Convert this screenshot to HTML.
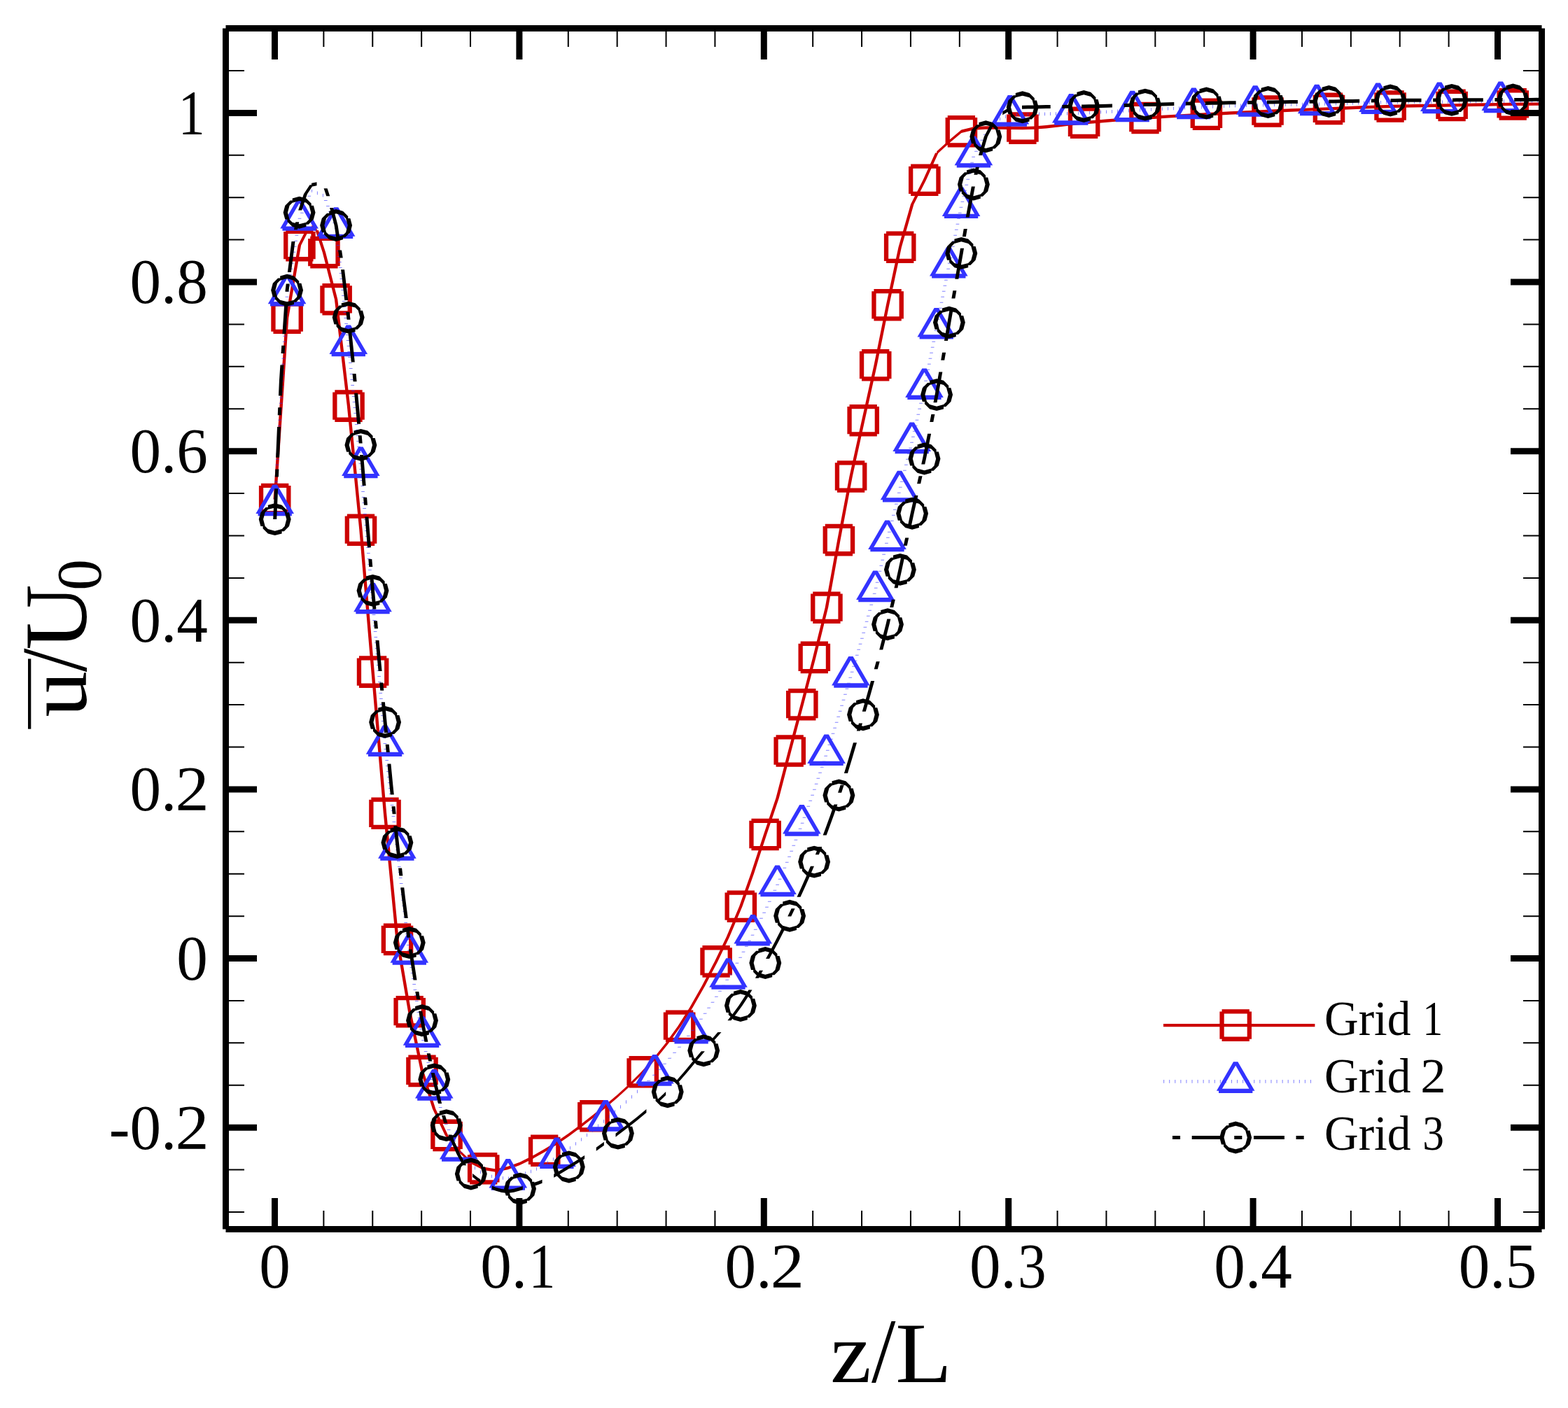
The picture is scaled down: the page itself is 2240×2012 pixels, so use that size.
<!DOCTYPE html>
<html lang="en"><head><meta charset="utf-8"><title>Grid convergence: mean velocity u/U0 versus z/L</title>
<style>html,body{margin:0;padding:0;background:#fff}svg{display:block}</style></head>
<body>
<svg width="2240" height="2012" viewBox="0 0 2240 2012" font-family="'Liberation Serif', 'Times New Roman', serif">
<defs>
<path id="ms" d="M-19.65 -22.8L19.65 -22.8L19.65 -16.5L-19.65 -16.5ZM16.5 -19.65L22.8 -19.65L22.8 19.65L16.5 19.65ZM19.65 22.8L-19.65 22.8L-19.65 16.5L19.65 16.5ZM-22.8 -19.65L-16.5 -19.65L-16.5 19.65L-22.8 19.65Z"/>
<path id="mt" d="M-3.15 -28.1L3.15 -28.1L27.3 13.4L21 13.4ZM24.15 16.55L-24.15 16.55L-24.15 10.25L24.15 10.25ZM-3.15 -28.1L3.15 -28.1L-21 13.4L-27.3 13.4Z"/>
<path id="mc" d="M0 -22.95L9.9 -20.3L9.9 -14L0 -16.65ZM9.9 -20.3L17.15 -13.05L17.15 -6.75L9.9 -14ZM14 -9.9L20.3 -9.9L22.95 0L16.65 0ZM16.65 0L22.95 0L20.3 9.9L14 9.9ZM14 9.9L20.3 9.9L13.05 17.15L6.75 17.15ZM9.9 20.3L0 22.95L0 16.65L9.9 14ZM0 22.95L-9.9 20.3L-9.9 14L0 16.65ZM-9.9 20.3L-17.15 13.05L-17.15 6.75L-9.9 14ZM-22.95 0L-16.65 0L-14 9.9L-20.3 9.9ZM-20.3 -9.9L-14 -9.9L-16.65 0L-22.95 0ZM-13.05 -17.15L-6.75 -17.15L-14 -9.9L-20.3 -9.9ZM-9.9 -20.3L0 -22.95L0 -16.65L-9.9 -14Z"/>
</defs>
<rect width="2240" height="2012" fill="#fff"/>
<g id="grid1" fill="#cc0000">
<path d="M407.9 454.2L412.3 454.2L394.9 713.6L390.5 713.6ZM425.7 350.6L430.1 350.6L412.3 454.2L407.9 454.2ZM434.4 333.5L438.8 333.5L430.1 350.6L425.7 350.6ZM443.1 324L447.5 324L438.8 333.5L434.4 333.5ZM445.3 321.8L452.7 326.8L452.7 331.2L445.3 326.2ZM450.5 329L454.9 329L465.1 360.6L460.7 360.6ZM460.7 360.6L465.1 360.6L482.3 427.8L477.9 427.8ZM477.9 427.8L482.3 427.8L500.2 580.1L495.8 580.1ZM495.8 580.1L500.2 580.1L517.7 757.2L513.3 757.2ZM513.3 757.2L517.7 757.2L534.8 960.1L530.4 960.1ZM530.4 960.1L534.8 960.1L552.2 1162.3L547.8 1162.3ZM547.8 1162.3L552.2 1162.3L569.7 1342.4L565.3 1342.4ZM565.3 1342.4L569.7 1342.4L587.4 1445.7L583 1445.7ZM583 1445.7L587.4 1445.7L605.2 1530.4L600.8 1530.4ZM600.8 1530.4L605.2 1530.4L622.27 1584.45L617.87 1584.45ZM617.87 1584.45L622.27 1584.45L640.2 1622.4L635.8 1622.4ZM635.8 1622.4L640.2 1622.4L657.25 1643.98L652.85 1643.98ZM655.05 1641.78L672.54 1658.38L672.54 1662.78L655.05 1646.18ZM672.54 1658.38L690.7 1667.6L690.7 1672L672.54 1662.78ZM690.7 1667.6L708.2 1670.4L708.2 1674.8L690.7 1672ZM708.2 1670.4L725.7 1666.8L725.7 1671.2L708.2 1674.8ZM725.7 1666.8L742.5 1660.72L742.5 1665.12L725.7 1671.2ZM742.5 1660.72L759.99 1652L759.99 1656.4L742.5 1665.12ZM759.99 1652L777.7 1642.1L777.7 1646.5L759.99 1656.4ZM777.7 1642.1L794.97 1631.58L794.97 1635.98L777.7 1646.5ZM794.97 1631.58L812.46 1619.54L812.46 1623.94L794.97 1635.98ZM812.46 1619.54L829.95 1606.5L829.95 1610.9L812.46 1623.94ZM829.95 1606.5L847.9 1592.5L847.9 1596.9L829.95 1610.9ZM847.9 1592.5L864.93 1578.78L864.93 1583.18L847.9 1596.9ZM864.93 1578.78L882.42 1563.91L882.42 1568.31L864.93 1583.18ZM882.42 1563.91L899.91 1547.91L899.91 1552.31L882.42 1568.31ZM916 1531.8L920.4 1531.8L902.11 1550.11L897.71 1550.11ZM932.69 1513.22L937.09 1513.22L920.4 1531.8L916 1531.8ZM950.18 1491.47L954.58 1491.47L937.09 1513.22L932.69 1513.22ZM968.4 1466.2L972.8 1466.2L954.58 1491.47L950.18 1491.47ZM985.16 1439.85L989.56 1439.85L972.8 1466.2L968.4 1466.2ZM1002.65 1408.96L1007.05 1408.96L989.56 1439.85L985.16 1439.85ZM1020.9 1373.9L1025.3 1373.9L1007.05 1408.96L1002.65 1408.96ZM1037.63 1338.94L1042.03 1338.94L1025.3 1373.9L1020.9 1373.9ZM1056.1 1295.2L1060.5 1295.2L1042.03 1338.94L1037.63 1338.94ZM1072.61 1248.38L1077.01 1248.38L1060.5 1295.2L1056.1 1295.2ZM1090.9 1192.5L1095.3 1192.5L1077.01 1248.38L1072.61 1248.38ZM1108.4 1140.5L1112.8 1140.5L1095.3 1192.5L1090.9 1192.5ZM1126 1073L1130.4 1073L1112.8 1140.5L1108.4 1140.5ZM1143.6 1006.7L1148 1006.7L1130.4 1073L1126 1073ZM1161.1 939.4L1165.5 939.4L1148 1006.7L1143.6 1006.7ZM1178.7 868.2L1183.1 868.2L1165.5 939.4L1161.1 939.4ZM1196.2 771.6L1200.6 771.6L1183.1 868.2L1178.7 868.2ZM1213.4 681L1217.8 681L1200.6 771.6L1196.2 771.6ZM1231 600.7L1235.4 600.7L1217.8 681L1213.4 681ZM1248.5 521.7L1252.9 521.7L1235.4 600.7L1231 600.7ZM1265.9 435.8L1270.3 435.8L1252.9 521.7L1248.5 521.7ZM1283.5 353.3L1287.9 353.3L1270.3 435.8L1265.9 435.8ZM1301 292L1305.4 292L1287.9 353.3L1283.5 353.3ZM1318.6 257.3L1323 257.3L1305.4 292L1301 292ZM1336.1 218.5L1340.5 218.5L1323 257.3L1318.6 257.3ZM1338.3 216.3L1355.8 200.3L1355.8 204.7L1338.3 220.7ZM1355.8 200.3L1373.4 185.5L1373.4 189.9L1355.8 204.7ZM1373.4 185.5L1391 181.3L1391 185.7L1373.4 189.9ZM1391 181.3L1408.5 180.3L1408.5 184.7L1391 185.7ZM1408.5 180.3L1424.61 180.44L1424.61 184.84L1408.5 184.7ZM1424.61 180.44L1442.1 180.72L1442.1 185.12L1424.61 184.84ZM1442.1 180.72L1460.9 180.9L1460.9 185.3L1442.1 185.12ZM1460.9 180.9L1477.08 180.4L1477.08 184.8L1460.9 185.3ZM1477.08 180.4L1494.57 178.99L1494.57 183.39L1477.08 184.8ZM1494.57 178.99L1512.06 177.07L1512.06 181.47L1494.57 183.39ZM1512.06 177.07L1529.55 175.01L1529.55 179.41L1512.06 181.47ZM1529.55 175.01L1548.6 173.1L1548.6 177.5L1529.55 179.41ZM1548.6 173.1L1564.53 171.78L1564.53 176.18L1548.6 177.5ZM1564.53 171.78L1582.02 170.35L1582.02 174.75L1564.53 176.18ZM1582.02 170.35L1599.51 168.96L1599.51 173.36L1582.02 174.75ZM1599.51 168.96L1617 167.64L1617 172.04L1599.51 173.36ZM1617 167.64L1636 166.3L1636 170.7L1617 172.04ZM1636 166.3L1651.98 165.25L1651.98 169.65L1636 170.7ZM1651.98 165.25L1669.47 164.16L1669.47 168.56L1651.98 169.65ZM1669.47 164.16L1686.96 163.13L1686.96 167.53L1669.47 168.56ZM1686.96 163.13L1704.45 162.14L1704.45 166.54L1686.96 167.53ZM1704.45 162.14L1723.4 161.1L1723.4 165.5L1704.45 166.54ZM1723.4 161.1L1739.43 160.25L1739.43 164.65L1723.4 165.5ZM1739.43 160.25L1756.92 159.36L1756.92 163.76L1739.43 164.65ZM1756.92 159.36L1774.41 158.5L1774.41 162.9L1756.92 163.76ZM1774.41 158.5L1791.9 157.67L1791.9 162.07L1774.41 162.9ZM1791.9 157.67L1811 156.8L1811 161.2L1791.9 162.07ZM1811 156.8L1826.88 156.11L1826.88 160.51L1811 161.2ZM1826.88 156.11L1844.37 155.37L1844.37 159.77L1826.88 160.51ZM1844.37 155.37L1861.86 154.66L1861.86 159.06L1844.37 159.77ZM1861.86 154.66L1879.35 153.96L1879.35 158.36L1861.86 159.06ZM1879.35 153.96L1898.5 153.2L1898.5 157.6L1879.35 158.36ZM1898.5 153.2L1914.33 152.54L1914.33 156.94L1898.5 157.6ZM1914.33 152.54L1931.82 151.78L1931.82 156.18L1914.33 156.94ZM1931.82 151.78L1949.31 151.04L1949.31 155.44L1931.82 156.18ZM1949.31 151.04L1966.8 150.38L1966.8 154.78L1949.31 155.44ZM1966.8 150.38L1986.1 149.8L1986.1 154.2L1966.8 154.78ZM1986.1 149.8L2001.78 149.44L2001.78 153.84L1986.1 154.2ZM2001.78 149.44L2019.27 149.11L2019.27 153.51L2001.78 153.84ZM2019.27 149.11L2036.76 148.81L2036.76 153.21L2019.27 153.51ZM2036.76 148.81L2054.25 148.53L2054.25 152.93L2036.76 153.21ZM2054.25 148.53L2074.1 148.2L2074.1 152.6L2054.25 152.93ZM2074.1 148.2L2089.23 147.92L2089.23 152.32L2074.1 152.6ZM2089.23 147.92L2106.72 147.58L2106.72 151.98L2089.23 152.32ZM2106.72 147.58L2124.21 147.24L2124.21 151.64L2106.72 151.98ZM2124.21 147.24L2141.7 146.95L2141.7 151.35L2124.21 151.64ZM2141.7 146.95L2161.2 146.7L2161.2 151.1L2141.7 151.35ZM2161.2 146.7L2176.68 146.56L2176.68 150.96L2161.2 151.1ZM2176.68 146.56L2194.17 146.44L2194.17 150.84L2176.68 150.96ZM2194.17 146.44L2202.5 146.4L2202.5 150.8L2194.17 150.84Z" fill="#cc0000" />
<use href="#ms" x="392.7" y="713.6"/><use href="#ms" x="410.1" y="454.2"/><use href="#ms" x="427.9" y="350.6"/><use href="#ms" x="462.9" y="360.6"/><use href="#ms" x="480.1" y="427.8"/><use href="#ms" x="498" y="580.1"/><use href="#ms" x="515.5" y="757.2"/><use href="#ms" x="532.6" y="960.1"/><use href="#ms" x="550" y="1162.3"/><use href="#ms" x="567.5" y="1342.4"/><use href="#ms" x="585.2" y="1445.7"/><use href="#ms" x="603" y="1530.4"/><use href="#ms" x="638" y="1622.4"/><use href="#ms" x="690.7" y="1669.8"/><use href="#ms" x="777.7" y="1644.3"/><use href="#ms" x="847.9" y="1594.7"/><use href="#ms" x="918.2" y="1531.8"/><use href="#ms" x="970.6" y="1466.2"/><use href="#ms" x="1023.1" y="1373.9"/><use href="#ms" x="1058.3" y="1295.2"/><use href="#ms" x="1093.1" y="1192.5"/><use href="#ms" x="1128.2" y="1073"/><use href="#ms" x="1145.8" y="1006.7"/><use href="#ms" x="1163.3" y="939.4"/><use href="#ms" x="1180.9" y="868.2"/><use href="#ms" x="1198.4" y="771.6"/><use href="#ms" x="1215.6" y="681"/><use href="#ms" x="1233.2" y="600.7"/><use href="#ms" x="1250.7" y="521.7"/><use href="#ms" x="1268.1" y="435.8"/><use href="#ms" x="1285.7" y="353.3"/><use href="#ms" x="1320.8" y="257.3"/><use href="#ms" x="1373.4" y="187.7"/><use href="#ms" x="1460.9" y="183.1"/><use href="#ms" x="1548.6" y="175.3"/><use href="#ms" x="1636" y="168.5"/><use href="#ms" x="1723.4" y="163.3"/><use href="#ms" x="1811" y="159"/><use href="#ms" x="1898.5" y="155.4"/><use href="#ms" x="1986.1" y="152"/><use href="#ms" x="2074.1" y="150.4"/><use href="#ms" x="2161.2" y="148.9"/>
</g>
<g id="grid2" fill="#3333ff">
<path d="M390.41 719.7L395.11 719.7L395.05 720.7L390.35 720.7ZM390.87 711.7L395.57 711.7L395.51 712.7L390.81 712.7ZM391.34 703.7L396.04 703.7L395.98 704.7L391.28 704.7ZM391.8 695.7L396.5 695.7L396.44 696.7L391.74 696.7ZM392.27 687.7L396.97 687.7L396.91 688.7L392.21 688.7ZM392.73 679.7L397.43 679.7L397.37 680.7L392.67 680.7ZM393.19 671.7L397.89 671.7L397.84 672.7L393.14 672.7ZM393.66 663.7L398.36 663.7L398.3 664.7L393.6 664.7ZM394.12 655.7L398.82 655.7L398.76 656.7L394.06 656.7ZM394.59 647.7L399.29 647.7L399.23 648.7L394.53 648.7ZM395.05 639.7L399.75 639.7L399.69 640.7L394.99 640.7ZM395.52 631.7L400.22 631.7L400.16 632.7L395.46 632.7ZM395.98 623.7L400.68 623.7L400.62 624.7L395.92 624.7ZM396.44 615.7L401.14 615.7L401.09 616.7L396.39 616.7ZM396.91 607.7L401.61 607.7L401.55 608.7L396.85 608.7ZM397.37 599.7L402.07 599.7L402.01 600.7L397.31 600.7ZM397.84 591.7L402.54 591.7L402.48 592.7L397.78 592.7ZM398.3 583.7L403 583.7L402.94 584.7L398.24 584.7ZM398.77 575.7L403.47 575.7L403.41 576.7L398.71 576.7ZM399.23 567.7L403.93 567.7L403.87 568.7L399.17 568.7ZM399.69 559.7L404.39 559.7L404.34 560.7L399.64 560.7ZM400.16 551.7L404.86 551.7L404.8 552.7L400.1 552.7ZM400.62 543.7L405.32 543.7L405.26 544.7L400.56 544.7ZM401.09 535.7L405.79 535.7L405.73 536.7L401.03 536.7ZM401.55 527.7L406.25 527.7L406.19 528.7L401.49 528.7ZM402.02 519.7L406.72 519.7L406.66 520.7L401.96 520.7ZM402.48 511.7L407.18 511.7L407.12 512.7L402.42 512.7ZM402.94 503.7L407.64 503.7L407.59 504.7L402.89 504.7ZM403.41 495.7L408.11 495.7L408.05 496.7L403.35 496.7ZM403.87 487.7L408.57 487.7L408.51 488.7L403.81 488.7ZM404.34 479.7L409.04 479.7L408.98 480.7L404.28 480.7ZM404.8 471.7L409.5 471.7L409.44 472.7L404.74 472.7ZM405.27 463.7L409.97 463.7L409.91 464.7L405.21 464.7ZM405.73 455.7L410.43 455.7L410.37 456.7L405.67 456.7ZM406.19 447.7L410.89 447.7L410.84 448.7L406.14 448.7ZM406.66 439.7L411.36 439.7L411.3 440.7L406.6 440.7ZM407.12 431.7L411.82 431.7L411.77 432.7L407.07 432.7ZM407.59 423.7L412.29 423.7L412.23 424.7L407.53 424.7ZM408.59 415.7L413.29 415.7L413.13 416.7L408.43 416.7ZM409.89 407.7L414.59 407.7L414.43 408.7L409.73 408.7ZM411.19 399.7L415.89 399.7L415.73 400.7L411.03 400.7ZM412.49 391.7L417.19 391.7L417.03 392.7L412.33 392.7ZM413.79 383.7L418.49 383.7L418.33 384.7L413.63 384.7ZM415.09 375.7L419.79 375.7L419.63 376.7L414.93 376.7ZM416.39 367.7L421.09 367.7L420.93 368.7L416.23 368.7ZM417.69 359.7L422.39 359.7L422.23 360.7L417.53 360.7ZM418.99 351.7L423.69 351.7L423.53 352.7L418.83 352.7ZM420.29 343.7L424.99 343.7L424.83 344.7L420.13 344.7ZM421.59 335.7L426.29 335.7L426.13 336.7L421.43 336.7ZM422.89 327.7L427.59 327.7L427.43 328.7L422.73 328.7ZM424.19 319.7L428.89 319.7L428.73 320.7L424.03 320.7ZM425.89 311.7L430.59 311.7L430.16 312.7L425.46 312.7ZM429.33 303.7L434.03 303.7L433.6 304.7L428.9 304.7ZM432.77 295.7L437.47 295.7L437.04 296.7L432.34 296.7ZM436.21 287.7L440.91 287.7L440.48 288.7L435.78 288.7ZM439.65 279.7L444.35 279.7L443.92 280.7L439.22 280.7ZM442.75 272.5L447.45 272.5L447.36 272.7L442.66 272.7ZM445.1 270.15L445.9 270.48L445.9 275.18L445.1 274.85ZM452.9 273.36L453.9 273.77L453.9 278.47L452.9 278.06ZM460.9 276.65L461.9 277.06L461.9 281.76L460.9 281.35ZM462.72 286L467.42 286L467.81 287L463.11 287ZM465.85 294L470.55 294L470.94 295L466.24 295ZM468.98 302L473.68 302L474.07 303L469.37 303ZM472.11 310L476.81 310L477.2 311L472.5 311ZM475.24 318L479.94 318L480.34 319L475.64 319ZM477.92 326L482.62 326L482.72 327L478.02 327ZM478.76 334L483.46 334L483.56 335L478.86 335ZM479.6 342L484.3 342L484.41 343L479.71 343ZM480.44 350L485.14 350L485.25 351L480.55 351ZM481.28 358L485.98 358L486.09 359L481.39 359ZM482.13 366L486.83 366L486.93 367L482.23 367ZM482.97 374L487.67 374L487.77 375L483.07 375ZM483.81 382L488.51 382L488.61 383L483.91 383ZM484.65 390L489.35 390L489.45 391L484.75 391ZM485.49 398L490.19 398L490.3 399L485.6 399ZM486.33 406L491.03 406L491.14 407L486.44 407ZM487.17 414L491.87 414L491.98 415L487.28 415ZM488.01 422L492.71 422L492.82 423L488.12 423ZM488.86 430L493.56 430L493.66 431L488.96 431ZM489.7 438L494.4 438L494.5 439L489.8 439ZM490.54 446L495.24 446L495.34 447L490.64 447ZM491.38 454L496.08 454L496.19 455L491.49 455ZM492.22 462L496.92 462L497.03 463L492.33 463ZM493.06 470L497.76 470L497.87 471L493.17 471ZM493.9 478L498.6 478L498.71 479L494.01 479ZM494.75 486L499.45 486L499.55 487L494.85 487ZM495.58 494L500.28 494L500.38 495L495.68 495ZM496.39 502L501.09 502L501.19 503L496.49 503ZM497.2 510L501.9 510L502 511L497.3 511ZM498.01 518L502.71 518L502.81 519L498.11 519ZM498.82 526L503.52 526L503.62 527L498.92 527ZM499.63 534L504.33 534L504.43 535L499.73 535ZM500.44 542L505.14 542L505.24 543L500.54 543ZM501.25 550L505.95 550L506.05 551L501.35 551ZM502.06 558L506.76 558L506.86 559L502.16 559ZM502.86 566L507.56 566L507.67 567L502.97 567ZM503.67 574L508.37 574L508.47 575L503.77 575ZM504.48 582L509.18 582L509.28 583L504.58 583ZM505.29 590L509.99 590L510.09 591L505.39 591ZM506.1 598L510.8 598L510.9 599L506.2 599ZM506.91 606L511.61 606L511.71 607L507.01 607ZM507.72 614L512.42 614L512.52 615L507.82 615ZM508.53 622L513.23 622L513.33 623L508.63 623ZM509.34 630L514.04 630L514.14 631L509.44 631ZM510.15 638L514.85 638L514.95 639L510.25 639ZM510.96 646L515.66 646L515.76 647L511.06 647ZM511.77 654L516.47 654L516.57 655L511.87 655ZM512.57 662L517.27 662L517.38 663L512.68 663ZM513.34 670L518.04 670L518.13 671L513.43 671ZM514.05 678L518.75 678L518.83 679L514.13 679ZM514.75 686L519.45 686L519.54 687L514.84 687ZM515.46 694L520.16 694L520.24 695L515.54 695ZM516.16 702L520.86 702L520.95 703L516.25 703ZM516.86 710L521.56 710L521.65 711L516.95 711ZM517.57 718L522.27 718L522.36 719L517.66 719ZM518.27 726L522.97 726L523.06 727L518.36 727ZM518.98 734L523.68 734L523.77 735L519.07 735ZM519.68 742L524.38 742L524.47 743L519.77 743ZM520.39 750L525.09 750L525.18 751L520.48 751ZM521.09 758L525.79 758L525.88 759L521.18 759ZM521.8 766L526.5 766L526.59 767L521.89 767ZM522.5 774L527.2 774L527.29 775L522.59 775ZM523.21 782L527.91 782L528 783L523.3 783ZM523.91 790L528.61 790L528.7 791L524 791ZM524.62 798L529.32 798L529.41 799L524.71 799ZM525.32 806L530.02 806L530.11 807L525.41 807ZM526.03 814L530.73 814L530.82 815L526.12 815ZM526.73 822L531.43 822L531.52 823L526.82 823ZM527.44 830L532.14 830L532.22 831L527.52 831ZM528.14 838L532.84 838L532.93 839L528.23 839ZM528.85 846L533.55 846L533.63 847L528.93 847ZM529.55 854L534.25 854L534.34 855L529.64 855ZM530.25 862L534.95 862L535.04 863L530.34 863ZM530.95 870L535.65 870L535.73 871L531.03 871ZM531.64 878L536.34 878L536.42 879L531.72 879ZM532.33 886L537.03 886L537.11 887L532.41 887ZM533.02 894L537.72 894L537.81 895L533.11 895ZM533.71 902L538.41 902L538.5 903L533.8 903ZM534.4 910L539.1 910L539.19 911L534.49 911ZM535.09 918L539.79 918L539.88 919L535.18 919ZM535.79 926L540.49 926L540.57 927L535.87 927ZM536.48 934L541.18 934L541.26 935L536.56 935ZM537.17 942L541.87 942L541.96 943L537.26 943ZM537.86 950L542.56 950L542.65 951L537.95 951ZM538.55 958L543.25 958L543.34 959L538.64 959ZM539.24 966L543.94 966L544.03 967L539.33 967ZM539.94 974L544.64 974L544.72 975L540.02 975ZM540.63 982L545.33 982L545.41 983L540.71 983ZM541.32 990L546.02 990L546.11 991L541.41 991ZM542.01 998L546.71 998L546.8 999L542.1 999ZM542.7 1006L547.4 1006L547.49 1007L542.79 1007ZM543.39 1014L548.09 1014L548.18 1015L543.48 1015ZM544.08 1022L548.78 1022L548.87 1023L544.17 1023ZM544.78 1030L549.48 1030L549.56 1031L544.86 1031ZM545.47 1038L550.17 1038L550.25 1039L545.55 1039ZM546.16 1046L550.86 1046L550.95 1047L546.25 1047ZM546.85 1054L551.55 1054L551.64 1055L546.94 1055ZM547.54 1062L552.24 1062L552.33 1063L547.63 1063ZM548.4 1070L553.1 1070L553.22 1071L548.52 1071ZM549.33 1078L554.03 1078L554.15 1079L549.45 1079ZM550.26 1086L554.96 1086L555.08 1087L550.38 1087ZM551.19 1094L555.89 1094L556.01 1095L551.31 1095ZM552.12 1102L556.82 1102L556.93 1103L552.23 1103ZM553.05 1110L557.75 1110L557.86 1111L553.16 1111ZM553.98 1118L558.68 1118L558.79 1119L554.09 1119ZM554.91 1126L559.61 1126L559.72 1127L555.02 1127ZM555.84 1134L560.54 1134L560.65 1135L555.95 1135ZM556.77 1142L561.47 1142L561.58 1143L556.88 1143ZM557.7 1150L562.4 1150L562.51 1151L557.81 1151ZM558.62 1158L563.32 1158L563.44 1159L558.74 1159ZM559.55 1166L564.25 1166L564.37 1167L559.67 1167ZM560.48 1174L565.18 1174L565.3 1175L560.6 1175ZM561.41 1182L566.11 1182L566.23 1183L561.53 1183ZM562.34 1190L567.04 1190L567.16 1191L562.46 1191ZM563.27 1198L567.97 1198L568.09 1199L563.39 1199ZM564.2 1206L568.9 1206L569.02 1207L564.32 1207ZM565.13 1214L569.83 1214L569.95 1215L565.25 1215ZM566.07 1222L570.77 1222L570.88 1223L566.18 1223ZM567 1230L571.7 1230L571.82 1231L567.12 1231ZM567.93 1238L572.63 1238L572.75 1239L568.05 1239ZM568.87 1246L573.57 1246L573.69 1247L568.99 1247ZM569.8 1254L574.5 1254L574.62 1255L569.92 1255ZM570.74 1262L575.44 1262L575.55 1263L570.85 1263ZM571.67 1270L576.37 1270L576.49 1271L571.79 1271ZM572.61 1278L577.31 1278L577.42 1279L572.72 1279ZM573.54 1286L578.24 1286L578.36 1287L573.66 1287ZM574.47 1294L579.17 1294L579.29 1295L574.59 1295ZM575.41 1302L580.11 1302L580.23 1303L575.53 1303ZM576.34 1310L581.04 1310L581.16 1311L576.46 1311ZM577.28 1318L581.98 1318L582.09 1319L577.39 1319ZM578.21 1326L582.91 1326L583.03 1327L578.33 1327ZM579.15 1334L583.85 1334L583.96 1335L579.26 1335ZM580.08 1342L584.78 1342L584.9 1343L580.2 1343ZM581.01 1350L585.71 1350L585.83 1351L581.13 1351ZM581.95 1358L586.65 1358L586.76 1359L582.06 1359ZM583.02 1366L587.72 1366L587.88 1367L583.18 1367ZM584.26 1374L588.96 1374L589.12 1375L584.42 1375ZM585.5 1382L590.2 1382L590.36 1383L585.66 1383ZM586.74 1390L591.44 1390L591.6 1391L586.9 1391ZM587.98 1398L592.68 1398L592.84 1399L588.14 1399ZM589.22 1406L593.92 1406L594.08 1407L589.38 1407ZM590.46 1414L595.16 1414L595.32 1415L590.62 1415ZM591.7 1422L596.4 1422L596.56 1423L591.86 1423ZM592.94 1430L597.64 1430L597.8 1431L593.1 1431ZM594.18 1438L598.88 1438L599.03 1439L594.33 1439ZM595.42 1446L600.12 1446L600.27 1447L595.57 1447ZM596.66 1454L601.36 1454L601.51 1455L596.81 1455ZM597.9 1462L602.6 1462L602.75 1463L598.05 1463ZM599.14 1470L603.84 1470L603.99 1471L599.29 1471ZM600.38 1478L605.08 1478L605.23 1479L600.53 1479ZM602.02 1486L606.72 1486L606.95 1487L602.25 1487ZM603.84 1494L608.54 1494L608.76 1495L604.06 1495ZM605.65 1502L610.35 1502L610.58 1503L605.88 1503ZM607.47 1510L612.17 1510L612.39 1511L607.69 1511ZM609.28 1518L613.98 1518L614.21 1519L609.51 1519ZM611.1 1526L615.8 1526L616.02 1527L611.32 1527ZM612.91 1534L617.61 1534L617.84 1535L613.14 1535ZM614.73 1542L619.43 1542L619.65 1543L614.95 1543ZM616.54 1550L621.24 1550L621.47 1551L616.77 1551ZM618.56 1558L623.26 1558L623.59 1559L618.89 1559ZM621.25 1566L625.95 1566L626.29 1567L621.59 1567ZM623.95 1574L628.65 1574L628.99 1575L624.29 1575ZM626.64 1582L631.34 1582L631.68 1583L626.98 1583ZM629.34 1590L634.04 1590L634.38 1591L629.68 1591ZM632.04 1598L636.74 1598L637.07 1599L632.37 1599ZM634.73 1606L639.43 1606L639.77 1607L635.07 1607ZM638.46 1614L643.16 1614L643.65 1615L638.95 1615ZM642.4 1622L647.1 1622L647.59 1623L642.89 1623ZM646.34 1630L651.04 1630L651.54 1631L646.84 1631ZM650.29 1638L654.99 1638L655.48 1639L650.78 1639ZM655.12 1646L659.82 1646L660.63 1647L655.93 1647ZM661.61 1654L666.31 1654L667.12 1655L662.42 1655ZM668.1 1662L672.8 1662L673.61 1663L668.91 1663ZM677.96 1666.2L678.96 1666.93L678.96 1671.63L677.96 1670.9ZM685.96 1672.05L686.96 1672.78L686.96 1677.48L685.96 1676.75ZM693.96 1676.18L694.96 1676.46L694.96 1681.16L693.96 1680.88ZM701.96 1678.38L702.96 1678.65L702.96 1683.35L701.96 1683.08ZM709.96 1680.19L710.96 1680.29L710.96 1684.99L709.96 1684.89ZM717.96 1681.03L718.96 1681.13L718.96 1685.83L717.96 1685.73ZM725.96 1681.8L726.96 1681.5L726.96 1686.2L725.96 1686.5ZM733.96 1679.41L734.96 1679.11L734.96 1683.81L733.96 1684.11ZM741.96 1677.02L742.96 1676.72L742.96 1681.42L741.96 1681.72ZM749.96 1674.41L750.96 1674.08L750.96 1678.78L749.96 1679.11ZM757.96 1671.76L758.96 1671.43L758.96 1676.13L757.96 1676.46ZM765.96 1668.19L766.96 1667.68L766.96 1672.38L765.96 1672.89ZM773.96 1664.13L774.96 1663.63L774.96 1668.33L773.96 1668.83ZM781.96 1659.55L782.96 1658.93L782.96 1663.63L781.96 1664.25ZM789.96 1654.55L790.96 1653.92L790.96 1658.62L789.96 1659.25ZM797.96 1649.41L798.96 1648.72L798.96 1653.42L797.96 1654.11ZM805.96 1643.96L806.96 1643.28L806.96 1647.98L805.96 1648.66ZM813.96 1638.41L814.96 1637.66L814.96 1642.36L813.96 1643.11ZM821.96 1632.42L822.96 1631.67L822.96 1636.37L821.96 1637.12ZM829.96 1626.42L830.96 1625.62L830.96 1630.32L829.96 1631.12ZM837.96 1620.04L838.96 1619.24L838.96 1623.94L837.96 1624.74ZM845.96 1613.65L846.96 1612.85L846.96 1617.55L845.96 1618.35ZM853.96 1607.06L854.96 1606.23L854.96 1610.93L853.96 1611.76ZM861.96 1600.43L862.96 1599.6L862.96 1604.3L861.96 1605.13ZM869.96 1593.68L870.96 1592.83L870.96 1597.53L869.96 1598.38ZM877.96 1586.84L878.96 1585.99L878.96 1590.69L877.96 1591.54ZM885.96 1579.86L886.96 1578.97L886.96 1583.67L885.96 1584.56ZM893.96 1572.7L894.96 1571.8L894.96 1576.5L893.96 1577.4ZM901.96 1565.44L902.96 1564.49L902.96 1569.19L901.96 1570.14ZM909.96 1557.89L910.96 1556.94L910.96 1561.64L909.96 1562.59ZM916.61 1551.66L921.31 1551.66L920.31 1552.66L915.61 1552.66ZM924.6 1543.66L929.3 1543.66L928.3 1544.66L923.6 1544.66ZM932.59 1535.66L937.29 1535.66L936.3 1536.66L931.6 1536.66ZM940.11 1527.66L944.81 1527.66L943.87 1528.66L939.17 1528.66ZM947.59 1519.66L952.29 1519.66L951.35 1520.66L946.65 1520.66ZM954.71 1511.66L959.41 1511.66L958.54 1512.66L953.84 1512.66ZM961.67 1503.66L966.37 1503.66L965.5 1504.66L960.8 1504.66ZM968.54 1495.66L973.24 1495.66L972.44 1496.66L967.74 1496.66ZM974.98 1487.66L979.68 1487.66L978.88 1488.66L974.18 1488.66ZM981.42 1479.66L986.12 1479.66L985.32 1480.66L980.62 1480.66ZM987.64 1471.66L992.34 1471.66L991.61 1472.66L986.91 1472.66ZM993.55 1463.66L998.25 1463.66L997.51 1464.66L992.81 1464.66ZM999.45 1455.66L1004.15 1455.66L1003.41 1456.66L998.71 1456.66ZM1005.13 1447.66L1009.83 1447.66L1009.15 1448.66L1004.45 1448.66ZM1010.57 1439.66L1015.27 1439.66L1014.59 1440.66L1009.89 1440.66ZM1016.01 1431.66L1020.71 1431.66L1020.03 1432.66L1015.33 1432.66ZM1021.36 1423.66L1026.06 1423.66L1025.42 1424.66L1020.72 1424.66ZM1026.46 1415.66L1031.16 1415.66L1030.52 1416.66L1025.82 1416.66ZM1031.55 1407.66L1036.25 1407.66L1035.62 1408.66L1030.92 1408.66ZM1036.65 1399.66L1041.35 1399.66L1040.71 1400.66L1036.01 1400.66ZM1041.47 1391.66L1046.17 1391.66L1045.59 1392.66L1040.89 1392.66ZM1046.19 1383.66L1050.89 1383.66L1050.3 1384.66L1045.6 1384.66ZM1050.9 1375.66L1055.6 1375.66L1055.01 1376.66L1050.31 1376.66ZM1055.56 1367.66L1060.26 1367.66L1059.72 1368.66L1055.02 1368.66ZM1059.92 1359.66L1064.62 1359.66L1064.07 1360.66L1059.37 1360.66ZM1064.28 1351.66L1068.98 1351.66L1068.43 1352.66L1063.73 1352.66ZM1068.63 1343.66L1073.33 1343.66L1072.79 1344.66L1068.09 1344.66ZM1072.99 1335.66L1077.69 1335.66L1077.15 1336.66L1072.45 1336.66ZM1077.14 1327.66L1081.84 1327.66L1081.33 1328.66L1076.63 1328.66ZM1081.28 1319.66L1085.98 1319.66L1085.46 1320.66L1080.76 1320.66ZM1085.41 1311.66L1090.11 1311.66L1089.6 1312.66L1084.9 1312.66ZM1089.55 1303.66L1094.25 1303.66L1093.73 1304.66L1089.03 1304.66ZM1093.38 1295.66L1098.08 1295.66L1097.61 1296.66L1092.91 1296.66ZM1097.19 1287.66L1101.89 1287.66L1101.41 1288.66L1096.71 1288.66ZM1100.99 1279.66L1105.69 1279.66L1105.21 1280.66L1100.51 1280.66ZM1104.79 1271.66L1109.49 1271.66L1109.02 1272.66L1104.32 1272.66ZM1108.15 1264.6L1112.85 1264.6L1112.82 1264.66L1108.12 1264.66ZM1108.55 1263.66L1113.25 1263.66L1112.85 1264.6L1108.15 1264.6ZM1111.93 1255.66L1116.63 1255.66L1116.21 1256.66L1111.51 1256.66ZM1115.32 1247.66L1120.02 1247.66L1119.59 1248.66L1114.89 1248.66ZM1118.7 1239.66L1123.4 1239.66L1122.98 1240.66L1118.28 1240.66ZM1122.09 1231.66L1126.79 1231.66L1126.36 1232.66L1121.66 1232.66ZM1125.43 1223.66L1130.13 1223.66L1129.74 1224.66L1125.04 1224.66ZM1128.53 1215.66L1133.23 1215.66L1132.84 1216.66L1128.14 1216.66ZM1131.63 1207.66L1136.33 1207.66L1135.94 1208.66L1131.24 1208.66ZM1134.73 1199.66L1139.43 1199.66L1139.04 1200.66L1134.34 1200.66ZM1137.83 1191.66L1142.53 1191.66L1142.15 1192.66L1137.45 1192.66ZM1140.93 1183.66L1145.63 1183.66L1145.25 1184.66L1140.55 1184.66ZM1143.97 1175.66L1148.67 1175.66L1148.31 1176.66L1143.61 1176.66ZM1146.86 1167.66L1151.56 1167.66L1151.2 1168.66L1146.5 1168.66ZM1149.76 1159.66L1154.46 1159.66L1154.1 1160.66L1149.4 1160.66ZM1152.65 1151.66L1157.35 1151.66L1156.99 1152.66L1152.29 1152.66ZM1155.55 1143.66L1160.25 1143.66L1159.88 1144.66L1155.18 1144.66ZM1158.44 1135.66L1163.14 1135.66L1162.78 1136.66L1158.08 1136.66ZM1161.24 1127.66L1165.94 1127.66L1165.61 1128.66L1160.91 1128.66ZM1163.96 1119.66L1168.66 1119.66L1168.32 1120.66L1163.62 1120.66ZM1166.67 1111.66L1171.37 1111.66L1171.03 1112.66L1166.33 1112.66ZM1169.38 1103.66L1174.08 1103.66L1173.74 1104.66L1169.04 1104.66ZM1172.09 1095.66L1176.79 1095.66L1176.46 1096.66L1171.76 1096.66ZM1174.81 1087.66L1179.51 1087.66L1179.17 1088.66L1174.47 1088.66ZM1177.52 1079.66L1182.22 1079.66L1181.88 1080.66L1177.18 1080.66ZM1180.12 1071.66L1184.82 1071.66L1184.5 1072.66L1179.8 1072.66ZM1182.69 1063.66L1187.39 1063.66L1187.07 1064.66L1182.37 1064.66ZM1185.26 1055.66L1189.96 1055.66L1189.64 1056.66L1184.94 1056.66ZM1187.82 1047.66L1192.52 1047.66L1192.2 1048.66L1187.5 1048.66ZM1190.39 1039.66L1195.09 1039.66L1194.77 1040.66L1190.07 1040.66ZM1192.96 1031.66L1197.66 1031.66L1197.34 1032.66L1192.64 1032.66ZM1195.49 1023.66L1200.19 1023.66L1199.89 1024.66L1195.19 1024.66ZM1197.93 1015.66L1202.63 1015.66L1202.33 1016.66L1197.63 1016.66ZM1200.37 1007.66L1205.07 1007.66L1204.77 1008.66L1200.07 1008.66ZM1202.81 999.66L1207.51 999.66L1207.21 1000.66L1202.51 1000.66ZM1205.25 991.66L1209.95 991.66L1209.65 992.66L1204.95 992.66ZM1207.69 983.66L1212.39 983.66L1212.09 984.66L1207.39 984.66ZM1210.14 975.66L1214.84 975.66L1214.53 976.66L1209.83 976.66ZM1212.58 967.66L1217.28 967.66L1216.97 968.66L1212.27 968.66ZM1214.97 959.66L1219.67 959.66L1219.37 960.66L1214.67 960.66ZM1217.34 951.66L1222.04 951.66L1221.75 952.66L1217.05 952.66ZM1219.72 943.66L1224.42 943.66L1224.12 944.66L1219.42 944.66ZM1222.1 935.66L1226.8 935.66L1226.5 936.66L1221.8 936.66ZM1224.48 927.66L1229.18 927.66L1228.88 928.66L1224.18 928.66ZM1226.85 919.66L1231.55 919.66L1231.26 920.66L1226.56 920.66ZM1229.23 911.66L1233.93 911.66L1233.64 912.66L1228.94 912.66ZM1231.49 903.66L1236.19 903.66L1235.91 904.66L1231.21 904.66ZM1233.7 895.66L1238.4 895.66L1238.12 896.66L1233.42 896.66ZM1235.91 887.66L1240.61 887.66L1240.33 888.66L1235.63 888.66ZM1238.12 879.66L1242.82 879.66L1242.54 880.66L1237.84 880.66ZM1240.33 871.66L1245.03 871.66L1244.75 872.66L1240.05 872.66ZM1242.54 863.66L1247.24 863.66L1246.96 864.66L1242.26 864.66ZM1244.75 855.66L1249.45 855.66L1249.17 856.66L1244.47 856.66ZM1246.96 847.66L1251.66 847.66L1251.38 848.66L1246.68 848.66ZM1249.01 839.66L1253.71 839.66L1253.47 840.66L1248.77 840.66ZM1250.91 831.66L1255.61 831.66L1255.37 832.66L1250.67 832.66ZM1252.81 823.66L1257.51 823.66L1257.27 824.66L1252.57 824.66ZM1254.71 815.66L1259.41 815.66L1259.17 816.66L1254.47 816.66ZM1256.61 807.66L1261.31 807.66L1261.07 808.66L1256.37 808.66ZM1258.51 799.66L1263.21 799.66L1262.97 800.66L1258.27 800.66ZM1260.41 791.66L1265.11 791.66L1264.87 792.66L1260.17 792.66ZM1262.31 783.66L1267.01 783.66L1266.77 784.66L1262.07 784.66ZM1264.21 775.66L1268.91 775.66L1268.67 776.66L1263.97 776.66ZM1266.16 767.66L1270.86 767.66L1270.61 768.66L1265.91 768.66ZM1268.14 759.66L1272.84 759.66L1272.6 760.66L1267.9 760.66ZM1270.13 751.66L1274.83 751.66L1274.58 752.66L1269.88 752.66ZM1272.12 743.66L1276.82 743.66L1276.57 744.66L1271.87 744.66ZM1274.11 735.66L1278.81 735.66L1278.56 736.66L1273.86 736.66ZM1276.1 727.66L1280.8 727.66L1280.55 728.66L1275.85 728.66ZM1278.09 719.66L1282.79 719.66L1282.54 720.66L1277.84 720.66ZM1280.08 711.66L1284.78 711.66L1284.53 712.66L1279.83 712.66ZM1282.06 703.66L1286.76 703.66L1286.52 704.66L1281.82 704.66ZM1284.08 695.66L1288.78 695.66L1288.53 696.66L1283.83 696.66ZM1286.12 687.66L1290.82 687.66L1290.56 688.66L1285.86 688.66ZM1288.15 679.66L1292.85 679.66L1292.6 680.66L1287.9 680.66ZM1290.19 671.66L1294.89 671.66L1294.63 672.66L1289.93 672.66ZM1292.22 663.66L1296.92 663.66L1296.67 664.66L1291.97 664.66ZM1294.26 655.66L1298.96 655.66L1298.7 656.66L1294 656.66ZM1296.29 647.66L1300.99 647.66L1300.74 648.66L1296.04 648.66ZM1298.33 639.66L1303.03 639.66L1302.77 640.66L1298.07 640.66ZM1300.35 631.7L1305.05 631.7L1304.81 632.66L1300.11 632.66ZM1300.36 631.66L1305.06 631.66L1305.05 631.7L1300.35 631.7ZM1302.2 623.66L1306.9 623.66L1306.67 624.66L1301.97 624.66ZM1304.05 615.66L1308.75 615.66L1308.52 616.66L1303.82 616.66ZM1305.89 607.66L1310.59 607.66L1310.36 608.66L1305.66 608.66ZM1307.74 599.66L1312.44 599.66L1312.21 600.66L1307.51 600.66ZM1309.58 591.66L1314.28 591.66L1314.05 592.66L1309.35 592.66ZM1311.43 583.66L1316.13 583.66L1315.9 584.66L1311.2 584.66ZM1313.27 575.66L1317.97 575.66L1317.74 576.66L1313.04 576.66ZM1315.12 567.66L1319.82 567.66L1319.59 568.66L1314.89 568.66ZM1316.96 559.66L1321.66 559.66L1321.43 560.66L1316.73 560.66ZM1318.72 551.66L1323.42 551.66L1323.22 552.66L1318.52 552.66ZM1320.32 543.66L1325.02 543.66L1324.82 544.66L1320.12 544.66ZM1321.92 535.66L1326.62 535.66L1326.42 536.66L1321.72 536.66ZM1323.52 527.66L1328.22 527.66L1328.02 528.66L1323.32 528.66ZM1325.12 519.66L1329.82 519.66L1329.62 520.66L1324.92 520.66ZM1326.72 511.66L1331.42 511.66L1331.22 512.66L1326.52 512.66ZM1328.32 503.66L1333.02 503.66L1332.82 504.66L1328.12 504.66ZM1329.92 495.66L1334.62 495.66L1334.42 496.66L1329.72 496.66ZM1331.52 487.66L1336.22 487.66L1336.02 488.66L1331.32 488.66ZM1333.12 479.66L1337.82 479.66L1337.62 480.66L1332.92 480.66ZM1334.72 471.66L1339.42 471.66L1339.22 472.66L1334.52 472.66ZM1336.32 463.66L1341.02 463.66L1340.82 464.66L1336.12 464.66ZM1337.93 455.66L1342.63 455.66L1342.43 456.66L1337.73 456.66ZM1339.54 447.66L1344.24 447.66L1344.04 448.66L1339.34 448.66ZM1341.15 439.66L1345.85 439.66L1345.65 440.66L1340.95 440.66ZM1342.76 431.66L1347.46 431.66L1347.26 432.66L1342.56 432.66ZM1344.37 423.66L1349.07 423.66L1348.87 424.66L1344.17 424.66ZM1345.98 415.66L1350.68 415.66L1350.48 416.66L1345.78 416.66ZM1347.59 407.66L1352.29 407.66L1352.09 408.66L1347.39 408.66ZM1349.2 399.66L1353.9 399.66L1353.7 400.66L1349 400.66ZM1350.81 391.66L1355.51 391.66L1355.31 392.66L1350.61 392.66ZM1352.42 383.66L1357.12 383.66L1356.91 384.66L1352.21 384.66ZM1354.06 375.66L1358.76 375.66L1358.55 376.66L1353.85 376.66ZM1355.73 367.66L1360.43 367.66L1360.22 368.66L1355.52 368.66ZM1357.39 359.66L1362.09 359.66L1361.89 360.66L1357.19 360.66ZM1359.06 351.66L1363.76 351.66L1363.55 352.66L1358.85 352.66ZM1360.72 343.66L1365.42 343.66L1365.22 344.66L1360.52 344.66ZM1362.39 335.66L1367.09 335.66L1366.88 336.66L1362.18 336.66ZM1364.06 327.66L1368.76 327.66L1368.55 328.66L1363.85 328.66ZM1365.72 319.66L1370.42 319.66L1370.21 320.66L1365.51 320.66ZM1367.39 311.66L1372.09 311.66L1371.88 312.66L1367.18 312.66ZM1369.05 303.66L1373.75 303.66L1373.54 304.66L1368.84 304.66ZM1370.72 295.66L1375.42 295.66L1375.21 296.66L1370.51 296.66ZM1372.67 287.66L1377.37 287.66L1377.13 288.66L1372.43 288.66ZM1374.63 279.66L1379.33 279.66L1379.09 280.66L1374.39 280.66ZM1376.6 271.66L1381.3 271.66L1381.05 272.66L1376.35 272.66ZM1378.56 263.66L1383.26 263.66L1383.01 264.66L1378.31 264.66ZM1380.52 255.66L1385.22 255.66L1384.97 256.66L1380.27 256.66ZM1382.48 247.66L1387.18 247.66L1386.94 248.66L1382.24 248.66ZM1384.44 239.66L1389.14 239.66L1388.9 240.66L1384.2 240.66ZM1386.4 231.66L1391.1 231.66L1390.86 232.66L1386.16 232.66ZM1388.36 223.66L1393.06 223.66L1392.82 224.66L1388.12 224.66ZM1392.38 215.66L1397.08 215.66L1396.55 216.66L1391.85 216.66ZM1396.61 207.66L1401.31 207.66L1400.78 208.66L1396.08 208.66ZM1400.84 199.66L1405.54 199.66L1405.01 200.66L1400.31 200.66ZM1405.07 191.66L1409.77 191.66L1409.25 192.66L1404.55 192.66ZM1411.76 183.66L1416.46 183.66L1415.54 184.66L1410.84 184.66ZM1419.09 175.66L1423.79 175.66L1422.87 176.66L1418.17 176.66ZM1428.04 167.72L1429.04 167.33L1429.04 172.03L1428.04 172.42ZM1436.04 164.56L1437.04 164.17L1437.04 168.87L1436.04 169.26ZM1444.04 161.8L1445.04 161.76L1445.04 166.46L1444.04 166.5ZM1452.04 161.45L1453.04 161.4L1453.04 166.1L1452.04 166.15ZM1460.04 161.1L1461.04 161.08L1461.04 165.78L1460.04 165.8ZM1468.04 160.91L1469.04 160.88L1469.04 165.58L1468.04 165.61ZM1476.04 160.71L1477.04 160.69L1477.04 165.39L1476.04 165.41ZM1484.04 160.58L1485.04 160.57L1485.04 165.27L1484.04 165.28ZM1492.04 160.47L1493.04 160.45L1493.04 165.15L1492.04 165.17ZM1500.04 160.35L1501.04 160.34L1501.04 165.04L1500.04 165.05ZM1508.04 160.24L1509.04 160.23L1509.04 164.93L1508.04 164.94ZM1516.04 160.09L1517.04 160.07L1517.04 164.77L1516.04 164.79ZM1524.04 159.9L1525.04 159.88L1525.04 164.58L1524.04 164.6ZM1532.04 159.68L1533.04 159.65L1533.04 164.35L1532.04 164.38ZM1540.04 159.38L1541.04 159.34L1541.04 164.04L1540.04 164.08ZM1548.04 159.06L1549.04 159.01L1549.04 163.71L1548.04 163.76ZM1556.04 158.68L1557.04 158.63L1557.04 163.33L1556.04 163.38ZM1564.04 158.3L1564.53 158.27L1564.53 162.97L1564.04 163ZM1564.53 158.27L1565.04 158.25L1565.04 162.95L1564.53 162.97ZM1572.04 157.87L1573.04 157.82L1573.04 162.52L1572.04 162.57ZM1580.04 157.45L1581.04 157.4L1581.04 162.1L1580.04 162.15ZM1588.04 157.01L1589.04 156.96L1589.04 161.66L1588.04 161.71ZM1596.04 156.58L1597.04 156.52L1597.04 161.22L1596.04 161.28ZM1604.04 156.15L1605.04 156.1L1605.04 160.8L1604.04 160.85ZM1612.04 155.74L1613.04 155.69L1613.04 160.39L1612.04 160.44ZM1620.04 155.33L1621.04 155.29L1621.04 159.99L1620.04 160.03ZM1628.04 154.94L1629.04 154.89L1629.04 159.59L1628.04 159.64ZM1636.04 154.55L1637.04 154.5L1637.04 159.2L1636.04 159.25ZM1644.04 154.15L1645.04 154.1L1645.04 158.8L1644.04 158.85ZM1652.04 153.75L1653.04 153.7L1653.04 158.4L1652.04 158.45ZM1660.04 153.35L1661.04 153.3L1661.04 158L1660.04 158.05ZM1668.04 152.96L1669.04 152.91L1669.04 157.61L1668.04 157.66ZM1676.04 152.58L1677.04 152.53L1677.04 157.23L1676.04 157.28ZM1684.04 152.2L1685.04 152.15L1685.04 156.85L1684.04 156.9ZM1692.04 151.84L1693.04 151.79L1693.04 156.49L1692.04 156.54ZM1700.04 151.48L1701.04 151.44L1701.04 156.14L1700.04 156.18ZM1708.04 151.13L1709.04 151.09L1709.04 155.79L1708.04 155.83ZM1716.04 150.79L1717.04 150.75L1717.04 155.45L1716.04 155.49ZM1724.04 150.45L1725.04 150.41L1725.04 155.11L1724.04 155.15ZM1732.04 150.11L1733.04 150.07L1733.04 154.77L1732.04 154.81ZM1740.04 149.77L1741.04 149.73L1741.04 154.43L1740.04 154.47ZM1748.04 149.45L1749.04 149.41L1749.04 154.11L1748.04 154.15ZM1756.04 149.13L1756.92 149.1L1756.92 153.8L1756.04 153.83ZM1756.92 149.1L1757.04 149.09L1757.04 153.79L1756.92 153.8ZM1764.04 148.84L1765.04 148.81L1765.04 153.51L1764.04 153.54ZM1772.04 148.56L1773.04 148.53L1773.04 153.23L1772.04 153.26ZM1780.04 148.32L1781.04 148.29L1781.04 152.99L1780.04 153.02ZM1788.04 148.09L1789.04 148.07L1789.04 152.77L1788.04 152.79ZM1796.04 147.89L1797.04 147.87L1797.04 152.57L1796.04 152.59ZM1804.04 147.72L1805.04 147.7L1805.04 152.4L1804.04 152.42ZM1812.04 147.57L1813.04 147.55L1813.04 152.25L1812.04 152.27ZM1820.04 147.44L1821.04 147.42L1821.04 152.12L1820.04 152.14ZM1828.04 147.31L1829.04 147.29L1829.04 151.99L1828.04 152.01ZM1836.04 147.19L1837.04 147.17L1837.04 151.87L1836.04 151.89ZM1844.04 147.07L1844.37 147.07L1844.37 151.77L1844.04 151.77ZM1844.37 147.07L1845.04 147.06L1845.04 151.76L1844.37 151.77ZM1852.04 146.95L1853.04 146.93L1853.04 151.63L1852.04 151.65ZM1860.04 146.83L1861.04 146.81L1861.04 151.51L1860.04 151.53ZM1868.04 146.69L1869.04 146.67L1869.04 151.37L1868.04 151.39ZM1876.04 146.54L1877.04 146.53L1877.04 151.23L1876.04 151.24ZM1884.04 146.38L1885.04 146.36L1885.04 151.06L1884.04 151.08ZM1892.04 146.19L1893.04 146.16L1893.04 150.86L1892.04 150.89ZM1900.04 145.97L1901.04 145.94L1901.04 150.64L1900.04 150.67ZM1908.04 145.74L1909.04 145.71L1909.04 150.41L1908.04 150.44ZM1916.04 145.5L1917.04 145.47L1917.04 150.17L1916.04 150.2ZM1924.04 145.25L1925.04 145.22L1925.04 149.92L1924.04 149.95ZM1932.04 145L1933.04 144.98L1933.04 149.68L1932.04 149.7ZM1940.04 144.78L1941.04 144.76L1941.04 149.46L1940.04 149.48ZM1948.04 144.56L1949.04 144.53L1949.04 149.23L1948.04 149.26ZM1956.04 144.4L1957.04 144.38L1957.04 149.08L1956.04 149.1ZM1964.04 144.24L1965.04 144.22L1965.04 148.92L1964.04 148.94ZM1972.04 144.11L1973.04 144.1L1973.04 148.8L1972.04 148.81ZM1980.04 144.01L1981.04 144L1981.04 148.7L1980.04 148.71ZM1988.04 143.93L1989.04 143.92L1989.04 148.62L1988.04 148.63ZM1996.04 143.85L1997.04 143.84L1997.04 148.54L1996.04 148.55ZM2004.04 143.78L2005.04 143.77L2005.04 148.47L2004.04 148.48ZM2012.04 143.72L2013.04 143.71L2013.04 148.41L2012.04 148.42ZM2020.04 143.65L2021.04 143.65L2021.04 148.35L2020.04 148.35ZM2028.04 143.59L2029.04 143.58L2029.04 148.28L2028.04 148.29ZM2036.04 143.53L2036.76 143.53L2036.76 148.23L2036.04 148.23ZM2036.76 143.53L2037.04 143.52L2037.04 148.22L2036.76 148.23ZM2044.04 143.46L2045.04 143.45L2045.04 148.15L2044.04 148.16ZM2052.04 143.39L2053.04 143.38L2053.04 148.08L2052.04 148.09ZM2060.04 143.31L2061.04 143.3L2061.04 148L2060.04 148.01ZM2068.04 143.22L2069.04 143.21L2069.04 147.91L2068.04 147.92ZM2076.04 143.13L2077.04 143.12L2077.04 147.82L2076.04 147.83ZM2084.04 143.03L2085.04 143.02L2085.04 147.72L2084.04 147.73ZM2092.04 142.93L2093.04 142.92L2093.04 147.62L2092.04 147.63ZM2100.04 142.83L2101.04 142.82L2101.04 147.52L2100.04 147.53ZM2108.04 142.73L2109.04 142.72L2109.04 147.42L2108.04 147.43ZM2116.04 142.64L2117.04 142.63L2117.04 147.33L2116.04 147.34ZM2124.04 142.54L2124.21 142.54L2124.21 147.24L2124.04 147.24ZM2124.21 142.54L2125.04 142.53L2125.04 147.23L2124.21 147.24ZM2132.04 142.47L2133.04 142.46L2133.04 147.16L2132.04 147.17ZM2140.04 142.39L2141.04 142.38L2141.04 147.08L2140.04 147.09ZM2148.04 142.32L2149.04 142.31L2149.04 147.01L2148.04 147.02ZM2156.04 142.25L2157.04 142.24L2157.04 146.94L2156.04 146.95ZM2164.04 142.19L2165.04 142.18L2165.04 146.88L2164.04 146.89ZM2172.04 142.13L2173.04 142.13L2173.04 146.83L2172.04 146.83ZM2180.04 142.08L2181.04 142.07L2181.04 146.77L2180.04 146.78ZM2188.04 142.03L2189.04 142.03L2189.04 146.73L2188.04 146.73ZM2196.04 141.98L2197.04 141.98L2197.04 146.68L2196.04 146.68Z" fill="#3333ff" fill-opacity="0.62"/>
<use href="#mt" x="392.7" y="720.7"/><use href="#mt" x="410.1" y="420.9"/><use href="#mt" x="427.6" y="313.2"/><use href="#mt" x="480.1" y="324.4"/><use href="#mt" x="497.8" y="492.7"/><use href="#mt" x="515.4" y="666.7"/><use href="#mt" x="532.5" y="860.8"/><use href="#mt" x="550.1" y="1064.4"/><use href="#mt" x="567.4" y="1213.3"/><use href="#mt" x="584.8" y="1362.3"/><use href="#mt" x="603.1" y="1480.4"/><use href="#mt" x="620.3" y="1556.2"/><use href="#mt" x="655.2" y="1643.2"/><use href="#mt" x="725.8" y="1684.2"/><use href="#mt" x="795.4" y="1653.5"/><use href="#mt" x="865.2" y="1600.1"/><use href="#mt" x="935.4" y="1535.2"/><use href="#mt" x="987.6" y="1474.9"/><use href="#mt" x="1040.5" y="1397.3"/><use href="#mt" x="1075.7" y="1335"/><use href="#mt" x="1110.5" y="1264.6"/><use href="#mt" x="1145.4" y="1178.2"/><use href="#mt" x="1180.6" y="1077.5"/><use href="#mt" x="1215.4" y="966.1"/><use href="#mt" x="1250.4" y="843.7"/><use href="#mt" x="1267.5" y="771.7"/><use href="#mt" x="1285.1" y="700.9"/><use href="#mt" x="1302.7" y="631.7"/><use href="#mt" x="1320.5" y="554.5"/><use href="#mt" x="1337.8" y="468"/><use href="#mt" x="1355.3" y="381"/><use href="#mt" x="1373.1" y="295.5"/><use href="#mt" x="1390.9" y="222.9"/><use href="#mt" x="1442.9" y="164.2"/><use href="#mt" x="1530.3" y="162.1"/><use href="#mt" x="1617.7" y="157.8"/><use href="#mt" x="1705.3" y="153.6"/><use href="#mt" x="1793.2" y="150.3"/><use href="#mt" x="1881.2" y="148.8"/><use href="#mt" x="1968.6" y="146.5"/><use href="#mt" x="2056.3" y="145.7"/><use href="#mt" x="2143.8" y="144.7"/>
</g>
<g id="grid3" fill="#000000">
<path d="M392.13 698.2L397.13 698.2L395.2 742.1L390.2 742.1ZM393.36 670.45L398.36 670.45L397.87 681.55L392.87 681.55ZM396.03 609.9L401.03 609.9L399.09 653.8L394.09 653.8ZM397.25 582.15L402.25 582.15L401.76 593.25L396.76 593.25ZM398.94 543.81L403.94 543.81L402.98 565.5L397.98 565.5ZM400.43 521.6L405.43 521.6L403.94 543.81L398.94 543.81ZM402.29 493.85L407.29 493.85L406.55 504.95L401.55 504.95ZM406.35 433.3L411.35 433.3L408.41 477.2L403.41 477.2ZM407.6 414.7L412.6 414.7L412.47 416.65L407.47 416.65ZM408.76 405.55L413.76 405.55L412.6 414.7L407.6 414.7ZM416.44 345.18L421.44 345.18L415.88 388.9L410.88 388.9ZM416.48 345L421.48 345L421.44 345.18L416.44 345.18ZM422.27 317.25L427.27 317.25L424.95 328.35L419.95 328.35ZM433.92 277.13L438.92 277.13L431.13 300.6L426.13 300.6ZM442.5 264.2L447.5 264.2L438.92 277.13L433.92 277.13ZM445 261.7L452.5 260.17L452.5 265.17L445 266.7ZM462.59 269.15L467.59 269.15L471.25 280.25L466.25 280.25ZM471.1 296.9L476.1 296.9L482.6 322L477.6 322ZM477.6 322L482.6 322L485.47 340.8L480.47 340.8ZM483.02 357.45L488.02 357.45L489.72 368.55L484.72 368.55ZM487.07 385.2L492.07 385.2L497.29 429.1L492.29 429.1ZM494.27 445.75L499.27 445.75L500.2 453.6L495.2 453.6ZM495.2 453.6L500.2 453.6L500.54 456.85L495.54 456.85ZM497.26 473.5L502.26 473.5L506.8 517.4L501.8 517.4ZM503.53 534.05L508.53 534.05L508.89 537.55L503.89 537.55ZM503.89 537.55L508.89 537.55L509.59 545.15L504.59 545.15ZM506.11 561.8L511.11 561.8L515.13 605.7L510.13 605.7ZM511.66 622.35L516.66 622.35L517.68 633.45L512.68 633.45ZM514.07 650.1L519.07 650.1L522.7 694L517.7 694ZM519.08 710.65L524.08 710.65L524.99 721.75L519.99 721.75ZM521.37 738.4L526.37 738.4L526.38 738.55L521.38 738.55ZM521.38 738.55L526.38 738.55L529.96 782.3L524.96 782.3ZM526.32 798.95L531.32 798.95L532.23 810.05L527.23 810.05ZM528.59 826.7L533.59 826.7L535 843.9L530 843.9ZM530 843.9L535 843.9L537.44 870.6L532.44 870.6ZM533.96 887.25L538.96 887.25L539.97 898.35L534.97 898.35ZM536.49 915L541.49 915L543.86 940.9L538.86 940.9ZM538.86 940.9L543.86 940.9L545.59 958.9L540.59 958.9ZM542.19 975.55L547.19 975.55L548.25 986.65L543.25 986.65ZM544.85 1003.3L549.85 1003.3L552.6 1031.9L547.6 1031.9ZM547.6 1031.9L552.6 1031.9L554.09 1047.2L549.09 1047.2ZM550.71 1063.85L555.71 1063.85L556.79 1074.95L551.79 1074.95ZM553.41 1091.6L558.41 1091.6L561.36 1121.92L556.36 1121.92ZM556.36 1121.92L561.36 1121.92L562.77 1135.5L557.77 1135.5ZM559.5 1152.15L564.5 1152.15L565.65 1163.25L560.65 1163.25ZM562.39 1179.9L567.39 1179.9L569.9 1204.1L564.9 1204.1ZM564.9 1204.1L569.9 1204.1L572.16 1223.8L567.16 1223.8ZM569.08 1240.45L574.08 1240.45L575.35 1251.55L570.35 1251.55ZM572.26 1268.2L577.26 1268.2L578.84 1281.92L573.84 1281.92ZM573.84 1281.92L578.84 1281.92L582.76 1312.1L577.76 1312.1ZM579.92 1328.75L584.92 1328.75L586.36 1339.85L581.36 1339.85ZM583.74 1356.5L588.74 1356.5L595.49 1400.4L590.49 1400.4ZM593.29 1417.05L598.29 1417.05L600.23 1428.15L595.23 1428.15ZM598.15 1444.8L603.15 1444.8L605.5 1458.2L600.5 1458.2ZM600.5 1458.2L605.5 1458.2L611.4 1488.7L606.4 1488.7ZM609.73 1505.35L614.73 1505.35L617.15 1516.45L612.15 1516.45ZM615.77 1533.1L620.77 1533.1L622.8 1542.4L617.8 1542.4ZM617.8 1542.4L622.8 1542.4L631.09 1577L626.09 1577ZM630.95 1593.65L635.95 1593.65L639.21 1604.75L634.21 1604.75ZM640.41 1621.4L645.41 1621.4L648.81 1630.09L643.81 1630.09ZM643.81 1630.09L648.81 1630.09L657.55 1649.57L652.55 1649.57ZM652.55 1649.57L657.55 1649.57L666.18 1665.3L661.18 1665.3ZM675.15 1676.89L681.5 1682L681.5 1687L675.15 1681.89ZM681.5 1682L686.25 1685.24L686.25 1690.24L681.5 1687ZM702.9 1694.38L707.8 1696.5L707.8 1701.5L702.9 1699.38ZM707.8 1696.5L716.5 1699L716.5 1704L707.8 1701.5ZM716.5 1699L725.3 1699.9L725.3 1704.9L716.5 1704ZM725.3 1699.9L734 1698.7L734 1703.7L725.3 1704.9ZM734 1698.7L743 1696.2L743 1701.2L734 1703.7ZM743 1696.2L746.8 1695.05L746.8 1700.05L743 1701.2ZM763.45 1689.76L768.74 1687.93L768.74 1692.93L763.45 1694.76ZM768.74 1687.93L774.55 1685.65L774.55 1690.65L768.74 1692.93ZM791.2 1677.75L794.97 1675.7L794.97 1680.7L791.2 1682.75ZM794.97 1675.7L803.72 1670.52L803.72 1675.52L794.97 1680.7ZM803.72 1670.52L812.8 1665L812.8 1670L803.72 1675.52ZM812.8 1665L821.21 1659.82L821.21 1664.82L812.8 1670ZM821.21 1659.82L829.95 1654.27L829.95 1659.27L821.21 1664.82ZM829.95 1654.27L835.1 1650.89L835.1 1655.89L829.95 1659.27ZM851.75 1639.64L856.19 1636.56L856.19 1641.56L851.75 1644.64ZM856.19 1636.56L862.85 1631.82L862.85 1636.82L856.19 1641.56ZM879.5 1619.63L882.9 1617.1L882.9 1622.1L879.5 1624.63ZM882.9 1617.1L891.17 1610.83L891.17 1615.83L882.9 1622.1ZM891.17 1610.83L899.91 1604.1L899.91 1609.1L891.17 1615.83ZM899.91 1604.1L908.66 1597.2L908.66 1602.2L899.91 1609.1ZM908.66 1597.2L917.4 1590.12L917.4 1595.12L908.66 1602.2ZM917.4 1590.12L923.4 1585.09L923.4 1590.09L917.4 1595.12ZM940.05 1570.52L943.64 1567.26L943.64 1572.26L940.05 1575.52ZM943.64 1567.26L951.15 1560.12L951.15 1565.12L943.64 1572.26ZM967.37 1543.08L972.37 1543.08L969.61 1546.1L964.61 1546.1ZM976.12 1532.99L981.12 1532.99L972.37 1543.08L967.37 1543.08ZM984.86 1522.59L989.86 1522.59L981.12 1532.99L976.12 1532.99ZM993.61 1512.05L998.61 1512.05L989.86 1522.59L984.86 1522.59ZM1001.86 1502.2L1006.86 1502.2L998.61 1512.05L993.61 1512.05ZM1019.84 1481.46L1024.84 1481.46L1020.82 1486.05L1015.82 1486.05ZM1025.49 1474.95L1030.49 1474.95L1024.84 1481.46L1019.84 1481.46ZM1046.08 1449.83L1051.08 1449.83L1044.4 1458.3L1039.4 1458.3ZM1055.4 1437L1060.4 1437L1051.08 1449.83L1046.08 1449.83ZM1063.57 1424.42L1068.57 1424.42L1060.4 1437L1055.4 1437ZM1069.46 1414.4L1074.46 1414.4L1068.57 1424.42L1063.57 1424.42ZM1081.06 1393.83L1086.06 1393.83L1083.88 1397.75L1078.88 1397.75ZM1084.98 1386.65L1089.98 1386.65L1086.06 1393.83L1081.06 1393.83ZM1098.55 1361.72L1103.55 1361.72L1099.06 1370L1094.06 1370ZM1107.29 1345.18L1112.29 1345.18L1103.55 1361.72L1098.55 1361.72ZM1116.04 1328.11L1121.04 1328.11L1112.29 1345.18L1107.29 1345.18ZM1117.04 1326.1L1122.04 1326.1L1121.04 1328.11L1116.04 1328.11ZM1125.6 1308.8L1130.6 1308.8L1130.28 1309.45L1125.28 1309.45ZM1130.63 1298.35L1135.63 1298.35L1130.6 1308.8L1125.6 1308.8ZM1142.27 1273.61L1147.27 1273.61L1143.49 1281.7L1138.49 1281.7ZM1151.02 1254.12L1156.02 1254.12L1147.27 1273.61L1142.27 1273.61ZM1157.96 1237.8L1162.96 1237.8L1156.02 1254.12L1151.02 1254.12ZM1168.51 1211.96L1173.51 1211.96L1169.81 1221.15L1164.81 1221.15ZM1169.24 1210.05L1174.24 1210.05L1173.51 1211.96L1168.51 1211.96ZM1177.25 1189.18L1182.25 1189.18L1180.63 1193.4L1175.63 1193.4ZM1186 1165.18L1191 1165.18L1182.25 1189.18L1177.25 1189.18ZM1191.41 1149.5L1196.41 1149.5L1191 1165.18L1186 1165.18ZM1200.67 1121.75L1205.67 1121.75L1202.08 1132.85L1197.08 1132.85ZM1212.23 1084.37L1217.23 1084.37L1210.91 1105.1L1205.91 1105.1ZM1219 1061.2L1224 1061.2L1217.23 1084.37L1212.23 1084.37ZM1226.99 1033.45L1231.99 1033.45L1228.81 1044.55L1223.81 1044.55ZM1238.47 993.2L1243.47 993.2L1236.75 1016.8L1231.75 1016.8ZM1244.14 972.9L1249.14 972.9L1243.47 993.2L1238.47 993.2ZM1251.74 945.15L1256.74 945.15L1253.74 956.25L1248.74 956.25ZM1265.5 892.2L1270.5 892.2L1261.21 928.5L1256.21 928.5ZM1267.29 884.6L1272.29 884.6L1270.5 892.2L1265.5 892.2ZM1273.45 858.52L1278.45 858.52L1276.22 867.95L1271.22 867.95ZM1273.82 856.85L1278.82 856.85L1278.45 858.52L1273.45 858.52ZM1283.4 813.9L1288.4 813.9L1282.54 840.2L1277.54 840.2ZM1287.2 796.3L1292.2 796.3L1288.4 813.9L1283.4 813.9ZM1290.94 778.98L1295.94 778.98L1295.8 779.65L1290.8 779.65ZM1293.17 768.55L1298.17 768.55L1295.94 778.98L1290.94 778.98ZM1300.6 733.8L1305.6 733.8L1301.73 751.9L1296.73 751.9ZM1306.41 708L1311.41 708L1305.6 733.8L1300.6 733.8ZM1312.56 680.25L1317.56 680.25L1315.11 691.35L1310.11 691.35ZM1318 655.5L1323 655.5L1321.22 663.6L1316.22 663.6ZM1325.15 619.7L1330.15 619.7L1323 655.5L1318 655.5ZM1330.39 591.95L1335.39 591.95L1333.31 603.05L1328.31 603.05ZM1335.6 564.1L1340.6 564.1L1338.5 575.3L1333.5 575.3ZM1341.32 531.4L1346.32 531.4L1340.6 564.1L1335.6 564.1ZM1346.1 503.65L1351.1 503.65L1349.21 514.75L1344.21 514.75ZM1353.4 460.8L1358.4 460.8L1353.94 487L1348.94 487ZM1356.5 443.1L1361.5 443.1L1358.4 460.8L1353.4 460.8ZM1360.9 417.94L1365.9 417.94L1364.41 426.45L1359.41 426.45ZM1361.36 415.35L1366.36 415.35L1365.9 417.94L1360.9 417.94ZM1370.8 361.9L1375.8 361.9L1369.3 398.7L1364.3 398.7ZM1372.01 354.8L1377.01 354.8L1375.8 361.9L1370.8 361.9ZM1376.76 327.05L1381.76 327.05L1379.86 338.15L1374.86 338.15ZM1387.84 266.5L1392.84 266.5L1384.71 310.4L1379.71 310.4ZM1393.83 238.75L1398.83 238.75L1396.4 249.85L1391.4 249.85ZM1405.8 195.3L1410.8 195.3L1403.01 222.1L1398.01 222.1ZM1413.37 180.78L1418.37 180.78L1410.8 195.3L1405.8 195.3ZM1415.37 178.2L1420.37 178.2L1418.37 180.78L1413.37 180.78ZM1432.25 159.52L1433.36 158.49L1433.36 163.49L1432.25 164.52ZM1433.36 158.49L1443.2 153L1443.2 158L1433.36 163.49ZM1443.2 153L1443.35 152.97L1443.35 157.97L1443.2 158ZM1460 150.86L1460.7 150.8L1460.7 155.8L1460 155.86ZM1460.7 150.8L1468.34 150.58L1468.34 155.58L1460.7 155.8ZM1468.34 150.58L1477.08 150.38L1477.08 155.38L1468.34 155.58ZM1477.08 150.38L1485.83 150.23L1485.83 155.23L1477.08 155.38ZM1485.83 150.23L1494.57 150.11L1494.57 155.11L1485.83 155.23ZM1494.57 150.11L1500.7 150.05L1500.7 155.05L1494.57 155.11ZM1517.35 149.89L1520.81 149.86L1520.81 154.86L1517.35 154.89ZM1520.81 149.86L1528.45 149.79L1528.45 154.79L1520.81 154.86ZM1545.1 149.55L1548.3 149.5L1548.3 154.5L1545.1 154.55ZM1548.3 149.5L1555.79 149.34L1555.79 154.34L1548.3 154.5ZM1555.79 149.34L1564.53 149.14L1564.53 154.14L1555.79 154.34ZM1564.53 149.14L1573.28 148.91L1573.28 153.91L1564.53 154.14ZM1573.28 148.91L1582.02 148.67L1582.02 153.67L1573.28 153.91ZM1582.02 148.67L1589 148.46L1589 153.46L1582.02 153.67ZM1605.65 147.96L1608.26 147.88L1608.26 152.88L1605.65 152.96ZM1608.26 147.88L1616.75 147.63L1616.75 152.63L1608.26 152.88ZM1633.4 147.17L1635.9 147.1L1635.9 152.1L1633.4 152.17ZM1635.9 147.1L1643.24 146.91L1643.24 151.91L1635.9 152.1ZM1643.24 146.91L1651.98 146.69L1651.98 151.69L1643.24 151.91ZM1651.98 146.69L1660.73 146.46L1660.73 151.46L1651.98 151.69ZM1660.73 146.46L1669.47 146.24L1669.47 151.24L1660.73 151.46ZM1669.47 146.24L1677.3 146.05L1677.3 151.05L1669.47 151.24ZM1693.95 145.64L1695.71 145.6L1695.71 150.6L1693.95 150.64ZM1695.71 145.6L1704.45 145.4L1704.45 150.4L1695.71 150.6ZM1704.45 145.4L1705.05 145.39L1705.05 150.39L1704.45 150.4ZM1721.7 145.04L1723.4 145L1723.4 150L1721.7 150.04ZM1723.4 145L1730.69 144.86L1730.69 149.86L1723.4 150ZM1730.69 144.86L1739.43 144.69L1739.43 149.69L1730.69 149.86ZM1739.43 144.69L1748.18 144.52L1748.18 149.52L1739.43 149.69ZM1748.18 144.52L1756.92 144.37L1756.92 149.37L1748.18 149.52ZM1756.92 144.37L1765.6 144.21L1765.6 149.21L1756.92 149.37ZM1782.25 143.94L1783.16 143.92L1783.16 148.92L1782.25 148.94ZM1783.16 143.92L1791.9 143.78L1791.9 148.78L1783.16 148.92ZM1791.9 143.78L1793.35 143.76L1793.35 148.76L1791.9 148.78ZM1810 143.52L1811.5 143.5L1811.5 148.5L1810 148.52ZM1811.5 143.5L1818.14 143.41L1818.14 148.41L1811.5 148.5ZM1818.14 143.41L1826.88 143.3L1826.88 148.3L1818.14 148.41ZM1826.88 143.3L1835.63 143.21L1835.63 148.21L1826.88 148.3ZM1835.63 143.21L1844.37 143.11L1844.37 148.11L1835.63 148.21ZM1844.37 143.11L1853.12 143.02L1853.12 148.02L1844.37 148.11ZM1853.12 143.02L1853.9 143.01L1853.9 148.01L1853.12 148.02ZM1870.55 142.84L1870.61 142.84L1870.61 147.84L1870.55 147.84ZM1870.61 142.84L1879.35 142.74L1879.35 147.74L1870.61 147.84ZM1879.35 142.74L1881.65 142.71L1881.65 147.71L1879.35 147.74ZM1898.3 142.5L1898.4 142.5L1898.4 147.5L1898.3 147.5ZM1898.4 142.5L1905.59 142.39L1905.59 147.39L1898.4 147.5ZM1905.59 142.39L1914.33 142.25L1914.33 147.25L1905.59 147.39ZM1914.33 142.25L1923.08 142.08L1923.08 147.08L1914.33 147.25ZM1923.08 142.08L1931.82 141.91L1931.82 146.91L1923.08 147.08ZM1931.82 141.91L1940.57 141.74L1940.57 146.74L1931.82 146.91ZM1940.57 141.74L1942.2 141.71L1942.2 146.71L1940.57 146.74ZM1958.85 141.39L1966.8 141.26L1966.8 146.26L1958.85 146.39ZM1966.8 141.26L1969.95 141.21L1969.95 146.21L1966.8 146.26ZM1986.6 141L1993.04 140.94L1993.04 145.94L1986.6 146ZM1993.04 140.94L2001.78 140.86L2001.78 145.86L1993.04 145.94ZM2001.78 140.86L2010.53 140.79L2010.53 145.79L2001.78 145.86ZM2010.53 140.79L2019.27 140.73L2019.27 145.73L2010.53 145.79ZM2019.27 140.73L2028.02 140.67L2028.02 145.67L2019.27 145.73ZM2028.02 140.67L2030.5 140.65L2030.5 145.65L2028.02 145.67ZM2047.15 140.55L2054.25 140.51L2054.25 145.51L2047.15 145.55ZM2054.25 140.51L2058.25 140.49L2058.25 145.49L2054.25 145.51ZM2074.9 140.39L2080.49 140.36L2080.49 145.36L2074.9 145.39ZM2080.49 140.36L2089.23 140.32L2089.23 145.32L2080.49 145.36ZM2089.23 140.32L2097.98 140.28L2097.98 145.28L2089.23 145.32ZM2097.98 140.28L2106.72 140.24L2106.72 145.24L2097.98 145.28ZM2106.72 140.24L2115.47 140.2L2115.47 145.2L2106.72 145.24ZM2115.47 140.2L2118.8 140.19L2118.8 145.19L2115.47 145.2ZM2135.45 140.12L2141.7 140.09L2141.7 145.09L2135.45 145.12ZM2141.7 140.09L2146.55 140.07L2146.55 145.07L2141.7 145.09ZM2163.2 139.99L2167.94 139.97L2167.94 144.97L2163.2 144.99ZM2167.94 139.97L2176.68 139.93L2176.68 144.93L2167.94 144.97ZM2176.68 139.93L2185.43 139.88L2185.43 144.88L2176.68 144.93ZM2185.43 139.88L2194.17 139.84L2194.17 144.84L2185.43 144.88ZM2194.17 139.84L2202.5 139.8L2202.5 144.8L2194.17 144.84Z" fill="#000000" />
<use href="#mc" x="392.7" y="742.1"/><use href="#mc" x="410.1" y="414.7"/><use href="#mc" x="427.6" y="303.7"/><use href="#mc" x="480.1" y="322"/><use href="#mc" x="497.7" y="453.6"/><use href="#mc" x="515.4" y="635.9"/><use href="#mc" x="532.5" y="843.9"/><use href="#mc" x="550.1" y="1031.9"/><use href="#mc" x="567.4" y="1204.1"/><use href="#mc" x="584.8" y="1347.1"/><use href="#mc" x="603" y="1458.2"/><use href="#mc" x="620.3" y="1542.4"/><use href="#mc" x="637.7" y="1608.1"/><use href="#mc" x="672.8" y="1677.5"/><use href="#mc" x="743" y="1698.7"/><use href="#mc" x="812.8" y="1667.5"/><use href="#mc" x="882.9" y="1619.6"/><use href="#mc" x="953.7" y="1560.2"/><use href="#mc" x="1005.2" y="1501.2"/><use href="#mc" x="1057.9" y="1437"/><use href="#mc" x="1093.3" y="1376"/><use href="#mc" x="1128.1" y="1308.8"/><use href="#mc" x="1163.1" y="1231.6"/><use href="#mc" x="1198.4" y="1136.5"/><use href="#mc" x="1233" y="1021.2"/><use href="#mc" x="1268" y="892.2"/><use href="#mc" x="1285.9" y="813.9"/><use href="#mc" x="1303.1" y="733.8"/><use href="#mc" x="1320.5" y="655.5"/><use href="#mc" x="1338.1" y="564.1"/><use href="#mc" x="1355.9" y="460.8"/><use href="#mc" x="1373.3" y="361.9"/><use href="#mc" x="1390.9" y="263.5"/><use href="#mc" x="1408.3" y="195.3"/><use href="#mc" x="1460.7" y="153.3"/><use href="#mc" x="1548.3" y="152"/><use href="#mc" x="1635.9" y="149.6"/><use href="#mc" x="1723.4" y="147.5"/><use href="#mc" x="1811.5" y="146"/><use href="#mc" x="1898.4" y="145"/><use href="#mc" x="1986.2" y="143.5"/><use href="#mc" x="2073.9" y="142.9"/><use href="#mc" x="2161.4" y="142.5"/>
</g>
<g id="legend">
<path d="M1662 1462.9L1878.4 1462.9L1878.4 1467.3L1662 1467.3Z" fill="#cc0000" />
<use href="#ms" x="1765.2" y="1465.1" fill="#cc0000"/>
<path d="M1662.15 1543.05L1663.15 1543.05L1663.15 1547.75L1662.15 1547.75ZM1670.22 1543.05L1671.22 1543.05L1671.22 1547.75L1670.22 1547.75ZM1678.29 1543.05L1679.29 1543.05L1679.29 1547.75L1678.29 1547.75ZM1686.36 1543.05L1687.36 1543.05L1687.36 1547.75L1686.36 1547.75ZM1694.43 1543.05L1695.43 1543.05L1695.43 1547.75L1694.43 1547.75ZM1702.5 1543.05L1703.5 1543.05L1703.5 1547.75L1702.5 1547.75ZM1710.57 1543.05L1711.57 1543.05L1711.57 1547.75L1710.57 1547.75ZM1718.64 1543.05L1719.64 1543.05L1719.64 1547.75L1718.64 1547.75ZM1726.71 1543.05L1727.71 1543.05L1727.71 1547.75L1726.71 1547.75ZM1734.78 1543.05L1735.78 1543.05L1735.78 1547.75L1734.78 1547.75ZM1742.85 1543.05L1743.85 1543.05L1743.85 1547.75L1742.85 1547.75ZM1750.92 1543.05L1751.92 1543.05L1751.92 1547.75L1750.92 1547.75ZM1758.99 1543.05L1759.99 1543.05L1759.99 1547.75L1758.99 1547.75ZM1767.06 1543.05L1768.06 1543.05L1768.06 1547.75L1767.06 1547.75ZM1775.13 1543.05L1776.13 1543.05L1776.13 1547.75L1775.13 1547.75ZM1783.2 1543.05L1784.2 1543.05L1784.2 1547.75L1783.2 1547.75ZM1791.27 1543.05L1792.27 1543.05L1792.27 1547.75L1791.27 1547.75ZM1799.34 1543.05L1800.34 1543.05L1800.34 1547.75L1799.34 1547.75ZM1807.41 1543.05L1808.41 1543.05L1808.41 1547.75L1807.41 1547.75ZM1815.48 1543.05L1816.48 1543.05L1816.48 1547.75L1815.48 1547.75ZM1823.55 1543.05L1824.55 1543.05L1824.55 1547.75L1823.55 1547.75ZM1831.62 1543.05L1832.62 1543.05L1832.62 1547.75L1831.62 1547.75ZM1839.69 1543.05L1840.69 1543.05L1840.69 1547.75L1839.69 1547.75ZM1847.76 1543.05L1848.76 1543.05L1848.76 1547.75L1847.76 1547.75ZM1855.83 1543.05L1856.83 1543.05L1856.83 1547.75L1855.83 1547.75ZM1863.9 1543.05L1864.9 1543.05L1864.9 1547.75L1863.9 1547.75ZM1871.97 1543.05L1872.97 1543.05L1872.97 1547.75L1871.97 1547.75Z" fill="#3333ff" fill-opacity="0.62"/>
<use href="#mt" x="1765.2" y="1545.4" fill="#3333ff"/>
<path d="M1674.95 1623L1686.05 1623L1686.05 1628L1674.95 1628ZM1702.7 1623L1746.6 1623L1746.6 1628L1702.7 1628ZM1763.25 1623L1774.35 1623L1774.35 1628L1763.25 1628ZM1791 1623L1834.9 1623L1834.9 1628L1791 1628ZM1851.55 1623L1862.65 1623L1862.65 1628L1851.55 1628Z" fill="#000000" />
<use href="#mc" x="1765.2" y="1625.5" fill="#000000"/>
<g fill="#000">
<text transform="translate(1892 1479) scale(0.957 1)" font-size="70.4"><tspan x="0">Grid </tspan><tspan x="146.86" textLength="29.92" lengthAdjust="spacingAndGlyphs">1</tspan></text>
<text transform="translate(1892 1560.8) scale(0.957 1)" font-size="70.4"><tspan x="0">Grid </tspan><tspan x="143.47" textLength="38.02" lengthAdjust="spacingAndGlyphs">2</tspan></text>
<text transform="translate(1892 1642.5) scale(0.957 1)" font-size="70.4"><tspan x="0">Grid </tspan><tspan x="146.46" textLength="32.03" lengthAdjust="spacingAndGlyphs">3</tspan></text>
</g></g>
<g stroke="#000" fill="none" stroke-linecap="butt">
<path d="M462.38 40.5V67M462.38 1756.5V1730M532.26 40.5V67M532.26 1756.5V1730M602.14 40.5V67M602.14 1756.5V1730M672.02 40.5V67M672.02 1756.5V1730M811.78 40.5V67M811.78 1756.5V1730M881.66 40.5V67M881.66 1756.5V1730M951.54 40.5V67M951.54 1756.5V1730M1021.42 40.5V67M1021.42 1756.5V1730M1161.18 40.5V67M1161.18 1756.5V1730M1231.06 40.5V67M1231.06 1756.5V1730M1300.94 40.5V67M1300.94 1756.5V1730M1370.82 40.5V67M1370.82 1756.5V1730M1510.58 40.5V67M1510.58 1756.5V1730M1580.46 40.5V67M1580.46 1756.5V1730M1650.34 40.5V67M1650.34 1756.5V1730M1720.22 40.5V67M1720.22 1756.5V1730M1859.98 40.5V67M1859.98 1756.5V1730M1929.86 40.5V67M1929.86 1756.5V1730M1999.74 40.5V67M1999.74 1756.5V1730M2069.62 40.5V67M2069.62 1756.5V1730M322.5 1732H349M2202.5 1732H2176M322.5 1671.59H349M2202.5 1671.59H2176M322.5 1550.77H349M2202.5 1550.77H2176M322.5 1490.37H349M2202.5 1490.37H2176M322.5 1429.96H349M2202.5 1429.96H2176M322.5 1309.14H349M2202.5 1309.14H2176M322.5 1248.73H349M2202.5 1248.73H2176M322.5 1188.33H349M2202.5 1188.33H2176M322.5 1067.51H349M2202.5 1067.51H2176M322.5 1007.1H349M2202.5 1007.1H2176M322.5 946.7H349M2202.5 946.7H2176M322.5 825.88H349M2202.5 825.88H2176M322.5 765.47H349M2202.5 765.47H2176M322.5 705.07H349M2202.5 705.07H2176M322.5 584.25H349M2202.5 584.25H2176M322.5 523.84H349M2202.5 523.84H2176M322.5 463.44H349M2202.5 463.44H2176M322.5 342.62H349M2202.5 342.62H2176M322.5 282.21H349M2202.5 282.21H2176M322.5 221.81H349M2202.5 221.81H2176M322.5 100.99H349M2202.5 100.99H2176" stroke-width="2.0"/>
<path d="M392.5 40.5V85M392.5 1756.5V1712M741.9 40.5V85M741.9 1756.5V1712M1091.3 40.5V85M1091.3 1756.5V1712M1440.7 40.5V85M1440.7 1756.5V1712M1790.1 40.5V85M1790.1 1756.5V1712M2139.5 40.5V85M2139.5 1756.5V1712M322.5 1611.18H367M2202.5 1611.18H2158M322.5 1369.55H367M2202.5 1369.55H2158M322.5 1127.92H367M2202.5 1127.92H2158M322.5 886.29H367M2202.5 886.29H2158M322.5 644.66H367M2202.5 644.66H2158M322.5 403.03H367M2202.5 403.03H2158M322.5 161.4H367M2202.5 161.4H2158" stroke-width="9"/>
<path d="M322.5 40.5H2202.5M2202.5 40.5V1756.5M2202.5 1756.5H322.5M322.5 1756.5V40.5" stroke-width="9"/>
</g>
<g fill="#000">
<text transform="translate(370.2 1839.7) scale(0.988 1)" font-size="90.3"><tspan x="0">0</tspan></text>
<text transform="translate(686.14 1839.7) scale(0.988 1)" font-size="90.3"><tspan x="0">0.</tspan><tspan x="70.31" textLength="38.38" lengthAdjust="spacingAndGlyphs">1</tspan></text>
<text transform="translate(1035.54 1839.7) scale(0.988 1)" font-size="90.3"><tspan x="0">0.</tspan><tspan x="65.96" textLength="48.76" lengthAdjust="spacingAndGlyphs">2</tspan></text>
<text transform="translate(1384.94 1839.7) scale(0.988 1)" font-size="90.3"><tspan x="0">0.</tspan><tspan x="69.79" textLength="41.09" lengthAdjust="spacingAndGlyphs">3</tspan></text>
<text transform="translate(1734.34 1839.7) scale(0.988 1)" font-size="90.3"><tspan x="0">0.4</tspan></text>
<text transform="translate(2083.74 1839.7) scale(0.988 1)" font-size="90.3"><tspan x="0">0.5</tspan></text>
<text transform="translate(155.67 1641.58) scale(0.988 1)" font-size="90.3"><tspan x="0">-0.</tspan><tspan x="96.03" textLength="48.76" lengthAdjust="spacingAndGlyphs">2</tspan></text>
<text transform="translate(252.29 1399.95) scale(0.988 1)" font-size="90.3"><tspan x="0">0</tspan></text>
<text transform="translate(185.38 1158.32) scale(0.988 1)" font-size="90.3"><tspan x="0">0.</tspan><tspan x="65.96" textLength="48.76" lengthAdjust="spacingAndGlyphs">2</tspan></text>
<text transform="translate(185.38 916.69) scale(0.988 1)" font-size="90.3"><tspan x="0">0.4</tspan></text>
<text transform="translate(185.38 675.06) scale(0.988 1)" font-size="90.3"><tspan x="0">0.6</tspan></text>
<text transform="translate(185.38 433.43) scale(0.988 1)" font-size="90.3"><tspan x="0">0.8</tspan></text>
<text transform="translate(252.29 191.8) scale(0.988 1)" font-size="90.3"><tspan x="2.58" textLength="38.38" lengthAdjust="spacingAndGlyphs">1</tspan></text>
</g>
<text transform="translate(1186.19 1974.7) scale(1.056 0.98)" font-size="125" fill="#000"><tspan x="0">z</tspan><tspan x="55.69" font-size="134" textLength="32.6" lengthAdjust="spacingAndGlyphs">/</tspan><tspan x="88.11" font-size="125">L</tspan></text>
<text transform="translate(122.85 1024.83) rotate(-90) scale(1.045 1.01)" font-size="125" fill="#000"><tspan x="0" y="0" font-size="122.3" textLength="62.9" lengthAdjust="spacingAndGlyphs">u</tspan><tspan x="61.75" y="0" font-size="131.6" textLength="32.4" lengthAdjust="spacingAndGlyphs">/</tspan><tspan x="91.99" y="0" font-size="126.6" textLength="89.5" lengthAdjust="spacingAndGlyphs">U</tspan><tspan x="173.33" y="20.7" font-size="90.1" textLength="42.6" lengthAdjust="spacingAndGlyphs">0</tspan></text>
<rect x="40.0" y="941.4" width="4.3" height="100.3" fill="#000"/>
</svg>
</body></html>
